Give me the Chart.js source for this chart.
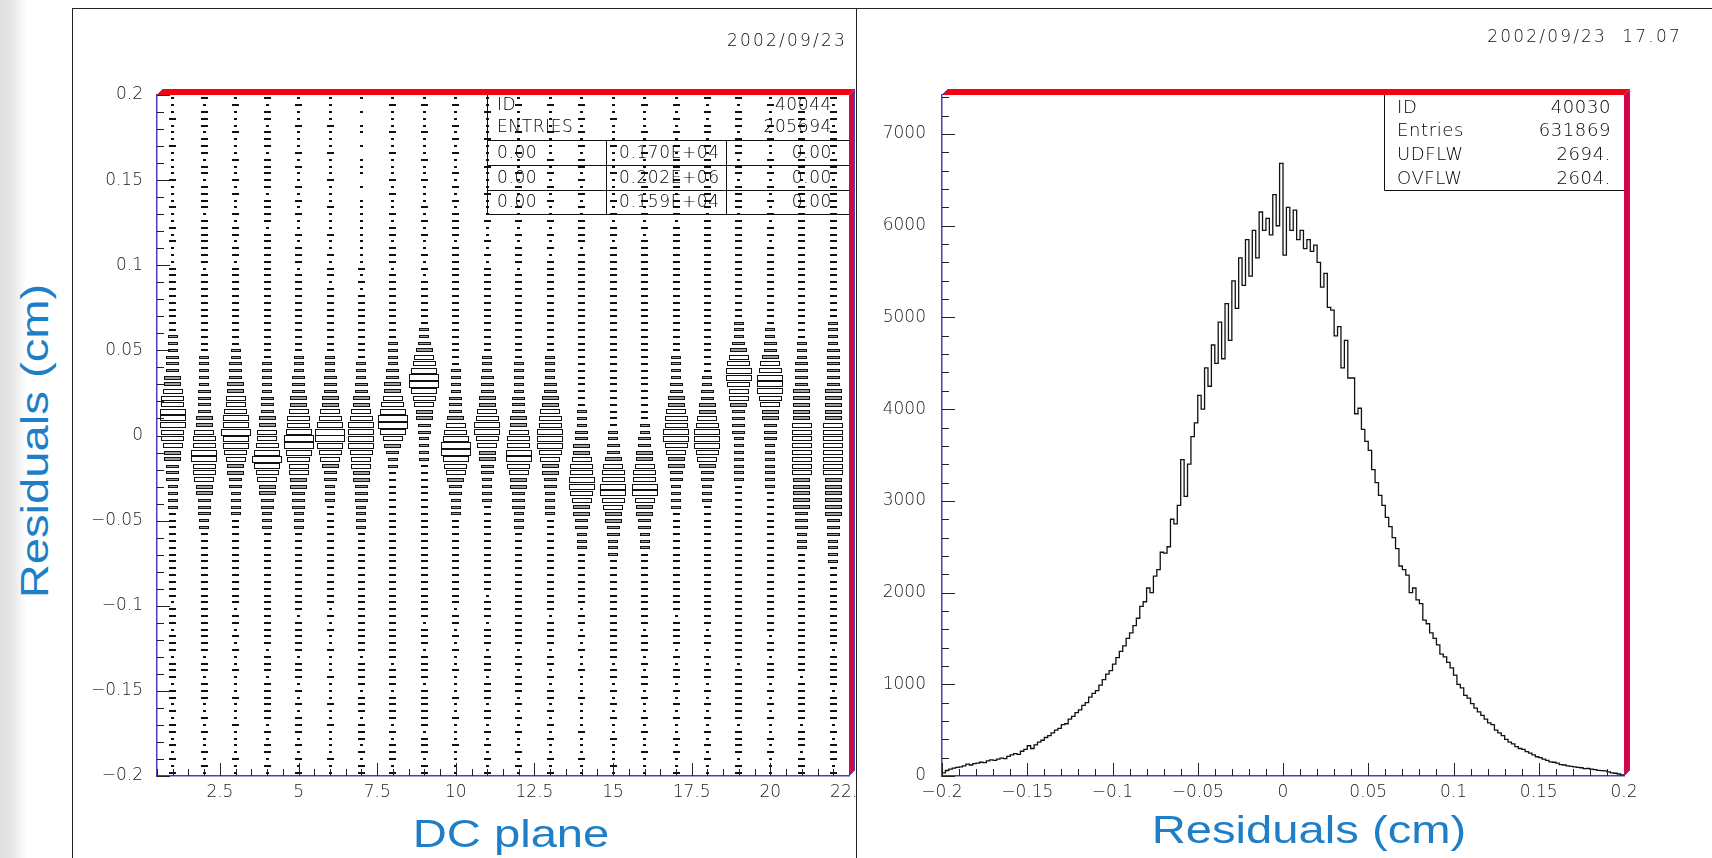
<!DOCTYPE html>
<html>
<head>
<meta charset="utf-8">
<title>DC residuals</title>
<script src="https://cdn.jsdelivr.net/npm/chart.js@4.4.1/dist/chart.umd.min.js"></script>
<style>
  html, body { margin: 0; padding: 0; background: #fff; }
  body { position: relative; width: 1712px; height: 858px; overflow: hidden; }
  #strip { position: absolute; left: 0; top: 0; width: 26px; height: 858px;
           background: linear-gradient(to right, #dedede 0, #e9e9e9 14px, #f5f5f5 21px, #fff 26px); }
  #panelL { position: absolute; left: 72px; top: 8px; width: 783px; height: 900px;
            border-left: 1px solid #222; border-top: 1px solid #222; border-right: 1px solid #222; }
  #panelR { position: absolute; left: 856px; top: 8px; width: 900px; height: 900px; border-top: 1px solid #222; }
  canvas { position: absolute; }
  #cvL { left: 73px; top: 9px; }
  #cvR { left: 857px; top: 9px; }
  .date { position: absolute; font: 200 17px 'DejaVu Sans', sans-serif; letter-spacing: 2.2px; color: #111;
          line-height: 20px; white-space: nowrap; }
  .title { position: absolute; font: 39px 'Liberation Sans', Arial, sans-serif; color: #1e7fc8;
           line-height: 39px; white-space: nowrap; }
</style>
</head>
<body>
<div id="strip"></div>
<div id="panelL"></div>
<div id="panelR"></div>
<canvas id="cvL" width="783" height="849"></canvas>
<canvas id="cvR" width="855" height="849"></canvas>
<div class="date" style="right:865px; top:30px;">2002/09/23</div>
<div class="date" style="right:30px; top:26px;">2002/09/23&nbsp; 17.07</div>
<div class="title" style="left:34px; top:441px; transform:translate(-50%,-50%) rotate(-90deg) scaleX(1.21);">Residuals (cm)</div>
<div class="title" style="left:511px; top:833px; transform:translate(-50%,-50%) scaleX(1.21);">DC plane</div>
<div class="title" style="left:1309px; top:829px; transform:translate(-50%,-50%) scaleX(1.21);">Residuals (cm)</div>

<script>
// ------------------------------------------------------------
// left: residual vs DC plane (box plot of a 2D histogram)
// ------------------------------------------------------------
const planeNumbers = [1, 2, 3, 4, 5, 6, 7, 8, 9, 10, 11, 12, 13, 14, 15, 16, 17, 18, 19, 20, 21, 22];
const residLow = -0.2;
const residHigh = 0.2;
const residBinCount = 100;

// box size per residual bin, top (0.2) to bottom (-0.2), in tenths of a bin; 0 = empty
const boxColumns = [
  "1112111211 1121112112 1211122222 2222233344 4556778887 7655444333 3222222222 2222122212 2212221221 2122121212",
  "2122212221 2212222122 2222212222 2222222233 3334444556 7788776554 4433222222 2222222222 2212212221 1212112121",
  "1211121112 1121211212 2122122222 2222222334 4455667889 8876554433 3322222222 2222212212 1211211121 1121111211",
  "2122122212 2222122221 2222222222 2222222223 3333444556 6789876554 4333222222 2222222222 2122212222 2212122121",
  "1211211121 2112121211 2122212222 2222222233 3444556778 9987665544 4333222222 2222221222 2212221212 1222121212",
  "1111211121 1121112111 2112122122 2222222233 3444556789 9876544333 2222222222 2222212121 1211121112 1121111211",
  "1010110101 1101011111 1111121212 2222222223 3344556788 8876655444 3333222222 2222222222 2212222122 2122212122",
  "1211121121 1121211212 2122212222 2222223333 4455678998 6543322222 2222222222 2222222222 2221222122 2212122212",
  "1211121112 1121112121 2112121222 2222334567 8998765544 3333222222 2222222222 2222222122 2122221222 2221222122",
  "1211212121 1212121222 2122222222 2222222222 3333444567 8998765443 3322222222 2222212212 1211211121 1211121111",
  "1121112111 2111211121 1212122222 2222222233 3444556788 7655443333 2222222222 2221222122 2122212221 2212121212",
  "1211121121 1212112121 2122212222 2222222223 3333444556 7788765544 4333222222 2222222222 2122122212 1212112121",
  "1211121112 1212121121 2121222222 2222222233 3344556778 8876554433 3322222222 2222221222 2122121221 2121211212",
  "1212121212 2121212122 2212222222 2222222222 2222223334 4556778876 5544333222 2222212212 1211211121 1112111211",
  "1112111211 1211121212 2122222222 2222222222 2222222223 3445677887 6554433322 2222222222 2221221212 1211211121",
  "1211121121 1212121212 1222222222 2222222222 2222222233 4455677886 5544333222 2222222212 2212122121 1212112111",
  "1212121212 2122122212 2222222222 2222222233 3344556778 8765544333 3222222222 2222221222 2121221212 1211212112",
  "2121221212 2212222122 2222222222 2222222222 2334455678 8876544333 2222222222 2222222212 2121221212 1212121211",
  "2122212221 2212222122 2222222222 2223334567 8876654444 3333333222 2222222222 2222222222 2221222222 2212222122",
  "1211212112 1212121212 2122222222 2222334456 7888765544 4333333322 2222222222 2222222221 2212221212 1211212111",
  "2122212122 2212222222 2222222222 2222223334 4445555566 6666665555 5444333222 2222222222 2222212222 2212221222",
  "2122122212 2212222222 2222222222 2223333444 4445555566 6666665555 5544433332 2222222222 2122222122 2212122212"
];

const dcTicks = [2.5, 5, 7.5, 10, 12.5, 15, 17.5, 20, 22.5];
const residTicks = [-0.2, -0.15, -0.1, -0.05, 0, 0.05, 0.1, 0.15, 0.2];

const statsIdLeft = "40044";
const statsEntriesLeft = "205694";
const statsGridLeft = [
  ["0.00", "0.170E+04", "0.00"],
  ["0.00", "0.202E+06", "0.00"],
  ["0.00", "0.159E+04", "0.00"]
];

// ------------------------------------------------------------
// right: 1D residual distribution
// ------------------------------------------------------------
const histLow = -0.2;
const histBinWidth = 0.002;
const histCounts = [
  35, 60, 75, 85, 95, 100, 110, 130, 120, 135,
  140, 150, 145, 165, 175, 170, 185, 195, 190, 215,
  230, 245, 235, 270, 290, 330, 300, 340, 370, 390,
  420, 440, 470, 500, 520, 560, 570, 620, 650, 690,
  720, 770, 800, 860, 900, 930, 990, 1050, 1110, 1150,
  1220, 1290, 1360, 1420, 1500, 1560, 1640, 1720, 1850, 1900,
  2050, 2000, 2180, 2250, 2440, 2430, 2500, 2800, 2750, 2950,
  3450, 3050, 3400, 3700, 3850, 4150, 4000, 4450, 4250, 4700,
  4500, 4950, 4550, 5150, 4750, 5400, 5100, 5650, 5350, 5850,
  5450, 5950, 5650, 6150, 5950, 6080, 5900, 6340, 6000, 6680,
  5680, 6200, 5950, 6170, 5850, 5950, 5750, 5850, 5720, 5790,
  5600, 5330, 5480, 5110, 5080, 4800, 4900, 4450, 4750, 4340,
  4340, 3950, 4010, 3780, 3650, 3550, 3340, 3200, 3060, 2950,
  2820, 2720, 2600, 2480, 2290, 2250, 2190, 2000, 2050, 1920,
  1880, 1700, 1660, 1560, 1500, 1430, 1330, 1300, 1240, 1180,
  1100, 1000, 960, 880, 850, 790, 740, 700, 660, 620,
  580, 560, 500, 470, 440, 400, 370, 350, 320, 300,
  290, 265, 250, 230, 210, 200, 185, 170, 155, 150,
  140, 125, 120, 110, 105, 100, 95, 90, 80, 82,
  75, 70, 62, 58, 55, 45, 34, 30, 22, 12
];
const histMax = 7426;
const countTicks = [0, 1000, 2000, 3000, 4000, 5000, 6000, 7000];

const statsRight = [
  ["ID", "40030"],
  ["Entries", "631869"],
  ["UDFLW", "2694."],
  ["OVFLW", "2604."]
];

// ------------------------------------------------------------
// shared styling
// ------------------------------------------------------------
const axisBlue = '#4642b4';
const tickFont = { family: "'DejaVu Sans', sans-serif", size: 17, weight: '200' };
const tickColor = '#1a1a1a';

function fmtTick(v) {
  return (v < 0 ? '\u2212' : '') + String(Math.abs(v));
}

function xAxis(min, max, ticks, height) {
  return {
    type: 'linear', min, max,
    afterBuildTicks: s => { s.ticks = ticks.map(v => ({ value: v })); },
    afterFit: s => { s.height = height; s.paddingLeft = 0; s.paddingRight = 0; },
    grid: { display: false, drawTicks: false },
    border: { display: true, color: axisBlue, width: 1.5 },
    ticks: { callback: fmtTick, font: tickFont, color: tickColor, padding: 6, maxRotation: 0, autoSkip: false }
  };
}

function yAxis(min, max, ticks, width, pad) {
  return {
    type: 'linear', min, max,
    afterBuildTicks: s => { s.ticks = ticks.map(v => ({ value: v })); },
    afterFit: s => { s.width = width; s.paddingTop = 0; s.paddingBottom = 0; },
    grid: { display: false, drawTicks: false },
    border: { display: true, color: axisBlue, width: 1.5 },
    ticks: { callback: fmtTick, font: tickFont, color: tickColor, padding: pad, autoSkip: false }
  };
}

// inward tick marks, long on the labelled steps
function tickMarks(spec) {
  return {
    id: 'tickMarks',
    afterDatasetsDraw(chart) {
      const { ctx, chartArea: a, scales: { x, y } } = chart;
      ctx.save();
      ctx.strokeStyle = '#222';
      ctx.lineWidth = 1;
      ctx.beginPath();
      let n = Math.round((spec.xMax - spec.xMin) / spec.xStep);
      for (let i = 0; i <= n; i++) {
        const v = spec.xMin + i * spec.xStep;
        const r = v / spec.xMajor;
        const len = Math.abs(r - Math.round(r)) < 1e-6 ? 13 : 7;
        const px = Math.round(x.getPixelForValue(v)) + 0.5;
        ctx.moveTo(px, a.bottom);
        ctx.lineTo(px, a.bottom - len);
      }
      n = Math.round((spec.yMax - spec.yMin) / spec.yStep);
      for (let i = 0; i <= n; i++) {
        const v = spec.yMin + i * spec.yStep;
        const r = v / spec.yMajor;
        const len = Math.abs(r - Math.round(r)) < 1e-6 ? 13 : 7;
        const py = Math.round(y.getPixelForValue(v)) + 0.5;
        ctx.moveTo(a.left, py);
        ctx.lineTo(a.left + len, py);
      }
      ctx.stroke();
      ctx.restore();
    }
  };
}

// red 3D edge along the top and right of the frame
const frame3d = {
  id: 'frame3d',
  afterDraw(chart) {
    const { ctx, chartArea: a } = chart;
    const d = 6;
    const l = Math.round(a.left), t = Math.round(a.top), r = Math.round(a.right), b = Math.round(a.bottom);
    ctx.save();
    // top face
    ctx.beginPath();
    ctx.moveTo(l, t);
    ctx.lineTo(l + d, t - d);
    ctx.lineTo(r + d, t - d);
    ctx.lineTo(r, t);
    ctx.closePath();
    ctx.fillStyle = '#f80010';
    ctx.fill();
    // right face
    ctx.beginPath();
    ctx.moveTo(r, t);
    ctx.lineTo(r + d, t - d);
    ctx.lineTo(r + d, b - d);
    ctx.lineTo(r, b);
    ctx.closePath();
    ctx.fillStyle = '#d0084a';
    ctx.fill();
    // thin outer outline
    ctx.strokeStyle = axisBlue;
    ctx.lineWidth = 1;
    ctx.beginPath();
    ctx.moveTo(l, t);
    ctx.lineTo(l + d, t - d + 0.5);
    ctx.lineTo(r + d - 0.5, t - d + 0.5);
    ctx.lineTo(r + d - 0.5, b - d);
    ctx.lineTo(r, b);
    ctx.stroke();
    ctx.restore();
  }
};

function statsText(ctx, size) {
  ctx.font = "200 " + size + "px 'DejaVu Sans', sans-serif";
  ctx.fillStyle = '#000';
  ctx.textBaseline = 'middle';
  if ('letterSpacing' in ctx) ctx.letterSpacing = '0.6px';
}

const statsLeft = {
  id: 'statsLeft',
  afterDatasetsDraw(chart) {
    const { ctx, chartArea: a } = chart;
    const L = 414, R = a.right, T = a.top;
    const rows = [T + 45, T + 70, T + 95, T + 119];
    const c1 = 533, c2 = 653;
    ctx.save();
    ctx.strokeStyle = '#111';
    ctx.lineWidth = 1;
    ctx.beginPath();
    ctx.moveTo(L + 0.5, T); ctx.lineTo(L + 0.5, rows[3] + 0.5);
    rows.forEach(ry => { ctx.moveTo(L, ry + 0.5); ctx.lineTo(R, ry + 0.5); });
    ctx.moveTo(c1 + 0.5, rows[0]); ctx.lineTo(c1 + 0.5, rows[3]);
    ctx.moveTo(c2 + 0.5, rows[0]); ctx.lineTo(c2 + 0.5, rows[3]);
    ctx.stroke();
    statsText(ctx, 17);
    ctx.textAlign = 'left';
    ctx.fillText('ID', L + 10, T + 11);
    ctx.fillText('ENTRIES', L + 10, T + 33);
    ctx.textAlign = 'right';
    ctx.fillText(statsIdLeft, R - 17, T + 11);
    ctx.fillText(statsEntriesLeft, R - 17, T + 33);
    statsGridLeft.forEach((row, i) => {
      const cy = (rows[i] + rows[i + 1]) / 2 + 1;
      ctx.textAlign = 'left';
      ctx.fillText(row[0], L + 10, cy);
      ctx.fillText(row[1], c1 + 13, cy);
      ctx.textAlign = 'right';
      ctx.fillText(row[2], R - 17, cy);
    });
    ctx.restore();
  }
};

const statsRightBox = {
  id: 'statsRight',
  afterDatasetsDraw(chart) {
    const { ctx, chartArea: a } = chart;
    const L = 527, R = a.right, T = a.top, B = a.top + 95;
    ctx.save();
    ctx.fillStyle = '#fff';
    ctx.fillRect(L, T, R - L, B - T);
    ctx.strokeStyle = '#111';
    ctx.lineWidth = 1;
    ctx.beginPath();
    ctx.moveTo(L + 0.5, T); ctx.lineTo(L + 0.5, B + 0.5); ctx.lineTo(R, B + 0.5);
    ctx.stroke();
    statsText(ctx, 18);
    statsRight.forEach((row, i) => {
      const cy = T + 13 + i * 23.7;
      ctx.textAlign = 'left';
      ctx.fillText(row[0], L + 13, cy);
      ctx.textAlign = 'right';
      ctx.fillText(row[1], R - 13, cy);
    });
    ctx.restore();
  }
};

// ------------------------------------------------------------
// box sprites used as point styles
// ------------------------------------------------------------
const residBinWidth = (residHigh - residLow) / residBinCount;
const boxSprites = {};

function boxSprite(level, bw, bh) {
  const f = level / 10 * 1.05;
  const w = Math.max(2, Math.round(f * bw));
  const h = Math.max(2, Math.round(f * bh + 0.4));
  const key = w + 'x' + h;
  if (boxSprites[key]) return boxSprites[key];
  const c = document.createElement('canvas');
  c.width = w;
  c.height = h;
  const g = c.getContext('2d');
  g.fillStyle = '#111';
  g.fillRect(0, 0, w, h);
  if (w > 2 && h > 2) {
    g.fillStyle = h <= 4 ? '#a0a0a0' : '#fff';
    g.fillRect(1, 1, w - 2, h - 2);
  }
  boxSprites[key] = c;
  return c;
}

function boxStyle(ctx) {
  const xs = ctx.chart.scales.x, ys = ctx.chart.scales.y;
  if (!ctx.raw || !xs || !ys) return 'rect';
  const bw = Math.abs(xs.getPixelForValue(1) - xs.getPixelForValue(0));
  const bh = Math.abs(ys.getPixelForValue(residBinWidth) - ys.getPixelForValue(0));
  if (!isFinite(bw) || !isFinite(bh) || bw <= 0 || bh <= 0) return 'rect';
  return boxSprite(ctx.raw.level, bw, bh);
}

const crispSprites = {
  id: 'crispSprites',
  beforeDatasetsDraw(chart) { chart.ctx.imageSmoothingEnabled = false; },
  afterDatasetsDraw(chart) { chart.ctx.imageSmoothingEnabled = true; }
};

const boxPoints = [];
boxColumns.forEach((col, i) => {
  const levels = col.replace(/\s+/g, '');
  for (let k = 0; k < levels.length; k++) {
    const level = Number(levels[k]);
    if (level > 0) {
      boxPoints.push({ x: planeNumbers[i], y: residHigh - (k + 0.5) * residBinWidth, level });
    }
  }
});

const histPoints = histCounts.map((c, i) => ({ x: histLow + i * histBinWidth, y: c }));
histPoints.push({ x: histLow + histCounts.length * histBinWidth, y: histCounts[histCounts.length - 1] });

// ------------------------------------------------------------
// charts
// ------------------------------------------------------------
new Chart(document.getElementById('cvL'), {
  type: 'scatter',
  data: {
    datasets: [{
      data: boxPoints,
      pointStyle: boxStyle,
      pointRadius: 2,
      pointHoverRadius: 2,
      pointBorderWidth: 0,
      backgroundColor: '#000',
      borderColor: '#000'
    }]
  },
  options: {
    responsive: false,
    animation: false,
    devicePixelRatio: 1,
    events: [],
    layout: { autoPadding: false, padding: { left: 0, top: 86, right: 7, bottom: 0 } },
    plugins: { legend: { display: false }, tooltip: { enabled: false } },
    scales: {
      x: xAxis(0.5, 22.5, dcTicks, 82),
      y: yAxis(residLow, residHigh, residTicks, 84, 14)
    }
  },
  plugins: [
    crispSprites,
    tickMarks({ xMin: 0.5, xMax: 22.5, xStep: 0.5, xMajor: 2.5, yMin: -0.2, yMax: 0.2, yStep: 0.01, yMajor: 0.05 }),
    statsLeft,
    frame3d
  ]
});

new Chart(document.getElementById('cvR'), {
  type: 'line',
  data: {
    datasets: [{
      data: histPoints,
      stepped: true,
      borderColor: '#111',
      borderWidth: 1.3,
      pointRadius: 0,
      fill: false,
      tension: 0
    }]
  },
  options: {
    responsive: false,
    animation: false,
    devicePixelRatio: 1,
    events: [],
    layout: { autoPadding: false, padding: { left: 0, top: 86, right: 88, bottom: 0 } },
    plugins: { legend: { display: false }, tooltip: { enabled: false } },
    scales: {
      x: xAxis(histLow, histLow + histCounts.length * histBinWidth, residTicks, 82),
      y: yAxis(0, histMax, countTicks, 85, 16)
    }
  },
  plugins: [
    tickMarks({ xMin: -0.2, xMax: 0.2, xStep: 0.01, xMajor: 0.05, yMin: 0, yMax: 7400, yStep: 200, yMajor: 1000 }),
    statsRightBox,
    frame3d
  ]
});
</script>
</body>
</html>
